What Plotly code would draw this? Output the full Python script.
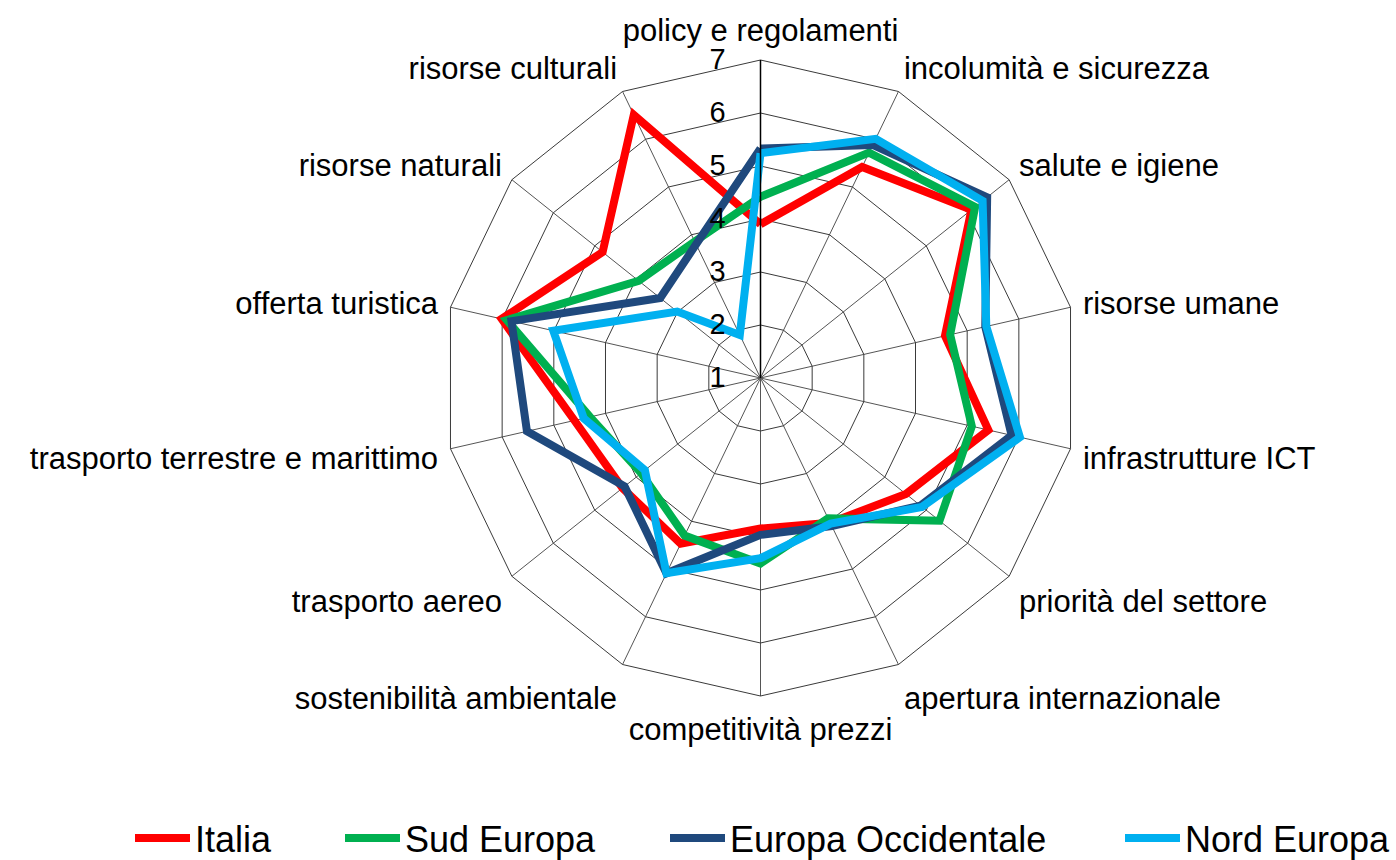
import plotly.graph_objects as go

categories = ["policy e regolamenti", "incolumità e sicurezza", "salute e igiene",
              "risorse umane", "infrastrutture ICT", "priorità del settore",
              "apertura internazionale", "competitività prezzi", "sostenibilità ambientale",
              "trasporto aereo", "trasporto terrestre e marittimo", "offerta turistica",
              "risorse naturali", "risorse culturali"]

italia = [3.90, 5.42, 6.09, 4.57, 5.41, 4.51, 4.03, 3.84, 4.47, 4.33, 4.60, 6.01, 4.81, 6.51]
sud_europa = [4.42, 5.72, 6.18, 4.67, 5.09, 5.32, 3.94, 4.50, 4.30, 3.88, 4.30, 5.91, 3.94, 3.86]
europa_occ = [5.33, 5.88, 6.47, 5.35, 5.86, 4.86, 4.10, 3.96, 5.09, 4.28, 5.52, 5.82, 3.42, 3.80]
nord_europa = [5.24, 6.01, 6.36, 5.37, 6.02, 4.90, 4.05, 4.40, 5.09, 3.79, 4.42, 5.01, 3.01, 1.90]

series_names = ["Italia", "Sud Europa", "Europa Occidentale", "Nord Europa"]
series_values = [italia, sud_europa, europa_occ, nord_europa]
colors = ["#FF0000", "#00B050", "#1F497D", "#00B0F0"]
legend_ids = ["legend", "legend2", "legend3", "legend4"]
legend_x_px = [130, 340, 665, 1120]

FONT = "Liberation Sans, Arial, sans-serif"

fig = go.Figure()
for name, vals, col, lg in zip(series_names, series_values, colors, legend_ids):
    fig.add_trace(go.Scatterpolar(
        r=vals + [vals[0]],
        theta=categories + [categories[0]],
        mode="lines",
        line=dict(color=col, width=8),
        name=name,
        legend=lg,
        showlegend=True,
    ))

W, H = 1396, 860
cx, cy, R = 760.5, 378, 318

layout = dict(
    width=W, height=H,
    margin=dict(l=0, r=0, t=0, b=0, autoexpand=False),
    showlegend=True,
    paper_bgcolor="white",
    font=dict(family=FONT, color="black"),
    polar=dict(
        domain=dict(x=[(cx - R) / W, (cx + R) / W],
                    y=[(H - cy - R) / H, (H - cy + R) / H]),
        bgcolor="white",
        gridshape="linear",
        radialaxis=dict(
            range=[1, 7], dtick=1, tick0=1, angle=90, tickangle=90,
            showline=True, linecolor="black", linewidth=1.5,
            gridcolor="#3a3a3a", gridwidth=1,
            tickfont=dict(size=29, color="black", family=FONT),
            ticks="outside", ticklen=24, tickcolor="rgba(0,0,0,0)",
            side="counterclockwise",
        ),
        angularaxis=dict(
            direction="clockwise", rotation=90,
            showline=True, linecolor="#3a3a3a", linewidth=1,
            gridcolor="#555555", gridwidth=1,
            tickfont=dict(size=31, color="black", family=FONT),
            ticks="outside", ticklen=6, tickcolor="rgba(0,0,0,0)",
        ),
    ),
)
for lg, xp in zip(legend_ids, legend_x_px):
    layout[lg] = dict(
        x=xp / W, y=(H - 838) / H, xanchor="left", yanchor="middle",
        orientation="h", itemwidth=55,
        font=dict(size=36, family=FONT, color="black"),
        bgcolor="rgba(0,0,0,0)",
    )
fig.update_layout(**layout)
fig.write_html("out.html", config={"displayModeBar": False},
               post_script="document.body.style.margin='0px';")
